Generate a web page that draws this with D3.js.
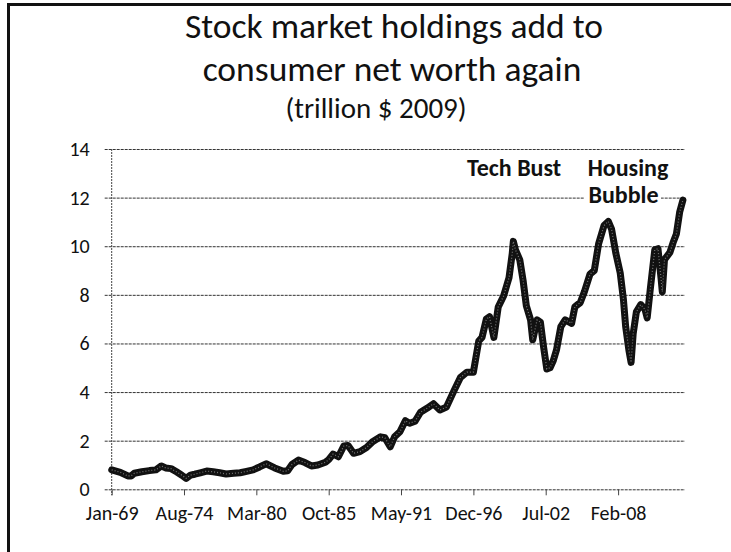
<!DOCTYPE html>
<html><head><meta charset="utf-8">
<script src="https://cdn.jsdelivr.net/npm/d3@7"></script>
<style>
html,body{margin:0;padding:0;background:#fff;}
svg{display:block;font-family:Carlito,Lato,"Open Sans",sans-serif;}
</style></head>
<body>
<script>
// ---- data ----
const titleLines = ["Stock market holdings add to", "consumer net worth again"];
const subtitle = "(trillion $ 2009)";
const dates = ["1969-01","1969-09","1970-04","1970-07","1970-10","1971-05","1971-12","1972-06","1972-11","1973-03","1973-08","1974-01","1974-06","1974-10","1975-02","1975-06","1975-11","1976-05","1976-11","1977-05","1977-11","1978-06","1978-12","1979-06","1979-12","1980-06","1980-12","1981-08","1982-04","1982-08","1982-12","1983-06","1983-12","1984-06","1984-12","1985-07","1985-10","1986-02","1986-07","1986-12","1987-04","1987-09","1988-03","1988-09","1989-03","1989-10","1990-02","1990-07","1990-11","1991-04","1991-09","1992-01","1992-06","1992-11","1993-05","1993-11","1994-05","1994-11","1995-06","1995-12","1996-06","1996-12","1997-05","1997-08","1997-12","1998-03","1998-07","1998-11","1999-04","1999-07","1999-09","1999-12","2000-01","2000-03","2000-07","2000-10","2001-01","2001-05","2001-07","2001-11","2002-02","2002-05","2002-08","2002-11","2003-02","2003-05","2003-09","2004-01","2004-07","2004-10","2005-03","2005-07","2005-12","2006-04","2006-08","2007-01","2007-05","2007-08","2007-12","2008-04","2008-07","2008-09","2008-12","2009-02","2009-04","2009-07","2009-11","2010-03","2010-05","2010-08","2010-12","2011-03","2011-06","2011-07","2011-09","2012-02","2012-05","2012-08","2012-11","2013-02"];
const values = [0.80,0.70,0.55,0.55,0.66,0.72,0.77,0.80,0.96,0.88,0.85,0.72,0.58,0.45,0.58,0.62,0.68,0.75,0.72,0.68,0.63,0.66,0.68,0.74,0.80,0.92,1.05,0.88,0.74,0.76,1.02,1.20,1.10,0.96,1.00,1.11,1.22,1.45,1.34,1.78,1.80,1.48,1.55,1.72,1.97,2.16,2.12,1.75,2.16,2.37,2.82,2.72,2.80,3.17,3.33,3.52,3.26,3.38,4.05,4.60,4.82,4.82,6.10,6.25,7.00,7.10,6.25,7.50,7.95,8.40,8.70,9.70,10.20,9.85,9.44,8.60,7.55,6.97,6.15,6.97,6.88,5.87,4.95,5.00,5.30,5.73,6.69,6.97,6.83,7.51,7.68,8.15,8.85,9.00,10.10,10.85,11.02,10.70,9.70,8.90,7.80,6.70,5.73,5.22,6.40,7.30,7.60,7.40,7.05,8.30,9.85,9.90,8.60,8.13,9.45,9.75,10.15,10.50,11.40,11.90];
const xTickDates = ["1969-01","1974-08","1980-03","1985-10","1991-05","1996-12","2002-07","2008-02"];
const yTicks = [0,2,4,6,8,10,12,14];
const domainStart = "1969-01", domainEnd = "2013-04";
const annoTech = "Tech Bust";
const annoHousing = ["Housing", "Bubble"];

// ---- chart ----
const W = 731, H = 552;
const parse = d3.timeParse("%Y-%m");
const fmt = d3.timeFormat("%b-%y");
const data = dates.map((d, i) => ({date: parse(d), value: values[i]}));

const svg = d3.select("body").append("svg").attr("width", W).attr("height", H);
svg.append("rect").attr("width", W).attr("height", H).attr("fill", "#fff");

const pL = 111.7, pR = 685, pT = 149, pB = 489.3;
const x = d3.scaleTime().domain([parse(domainStart), parse(domainEnd)]).range([pL, pR]);
const y = d3.scaleLinear().domain([0, 14]).range([pB, pT]);

// frame (cropped chart border)
svg.append("path").attr("d", `M8.5,${H} L8.5,4.5 L${W},4.5`)
  .attr("fill", "none").attr("stroke", "#111").attr("stroke-width", 3);

// titles
svg.append("text").attr("x", 394).attr("y", 38).attr("text-anchor", "middle")
  .attr("font-size", 35.5).attr("fill", "#111").text(titleLines[0]);
svg.append("text").attr("x", 392).attr("y", 81).attr("text-anchor", "middle")
  .attr("font-size", 35.5).attr("fill", "#111").text(titleLines[1]);
svg.append("text").attr("x", 376).attr("y", 118).attr("text-anchor", "middle")
  .attr("font-size", 29).attr("fill", "#111").text(subtitle);

// gridlines via y axis
const yAxis = d3.axisLeft(y).tickValues(yTicks).tickSize(-(pR - pL)).tickSizeOuter(0).tickPadding(22);
const gy = svg.append("g").attr("transform", `translate(${pL},0)`).call(yAxis);
gy.select(".domain").remove();
gy.selectAll(".tick line").attr("x1", -7).attr("stroke", "#333").attr("stroke-width", 1).attr("stroke-dasharray", "3,1");
gy.selectAll(".tick text").attr("font-size", 20).attr("fill", "#111").attr("font-family", "Carlito,Lato,sans-serif");

// vertical axis line
svg.append("line").attr("x1", pL).attr("x2", pL).attr("y1", pT).attr("y2", pB + 6)
  .attr("stroke", "#444").attr("stroke-width", 1).attr("stroke-dasharray", "2,1");

// x axis
const xAxis = d3.axisBottom(x).tickValues(xTickDates.map(parse)).tickFormat(fmt).tickSize(6).tickSizeOuter(0).tickPadding(11);
const gx = svg.append("g").attr("transform", `translate(0,${pB})`).call(xAxis);
gx.select(".domain").remove();
gx.selectAll(".tick line").attr("stroke", "#444");
gx.selectAll(".tick text").attr("font-size", 20).attr("fill", "#111").attr("font-family", "Carlito,Lato,sans-serif");

// series line
const line = d3.line().x(d => x(d.date)).y(d => y(d.value)).curve(d3.curveLinear);
svg.append("path").datum(data).attr("d", line).attr("fill", "none")
  .attr("stroke", "#111").attr("stroke-width", 7).attr("stroke-linejoin", "round").attr("stroke-linecap", "round");
svg.append("path").datum(data).attr("d", line).attr("fill", "none")
  .attr("stroke", "#777").attr("stroke-width", 1.2).attr("stroke-dasharray", "1,2");

// annotations
svg.append("text").attr("x", 514).attr("y", 176).attr("text-anchor", "middle")
  .attr("font-size", 24).attr("font-weight", "bold").attr("fill", "#111").text(annoTech);
svg.append("rect").attr("x", 584).attr("y", 152).attr("width", 77).attr("height", 56).attr("fill", "#fff");
svg.append("text").attr("x", 628).attr("y", 176).attr("text-anchor", "middle")
  .attr("font-size", 24).attr("font-weight", "bold").attr("fill", "#111").text(annoHousing[0]);
svg.append("text").attr("x", 623.5).attr("y", 203).attr("text-anchor", "middle")
  .attr("font-size", 24).attr("font-weight", "bold").attr("fill", "#111").text(annoHousing[1]);
</script>
</body></html>
